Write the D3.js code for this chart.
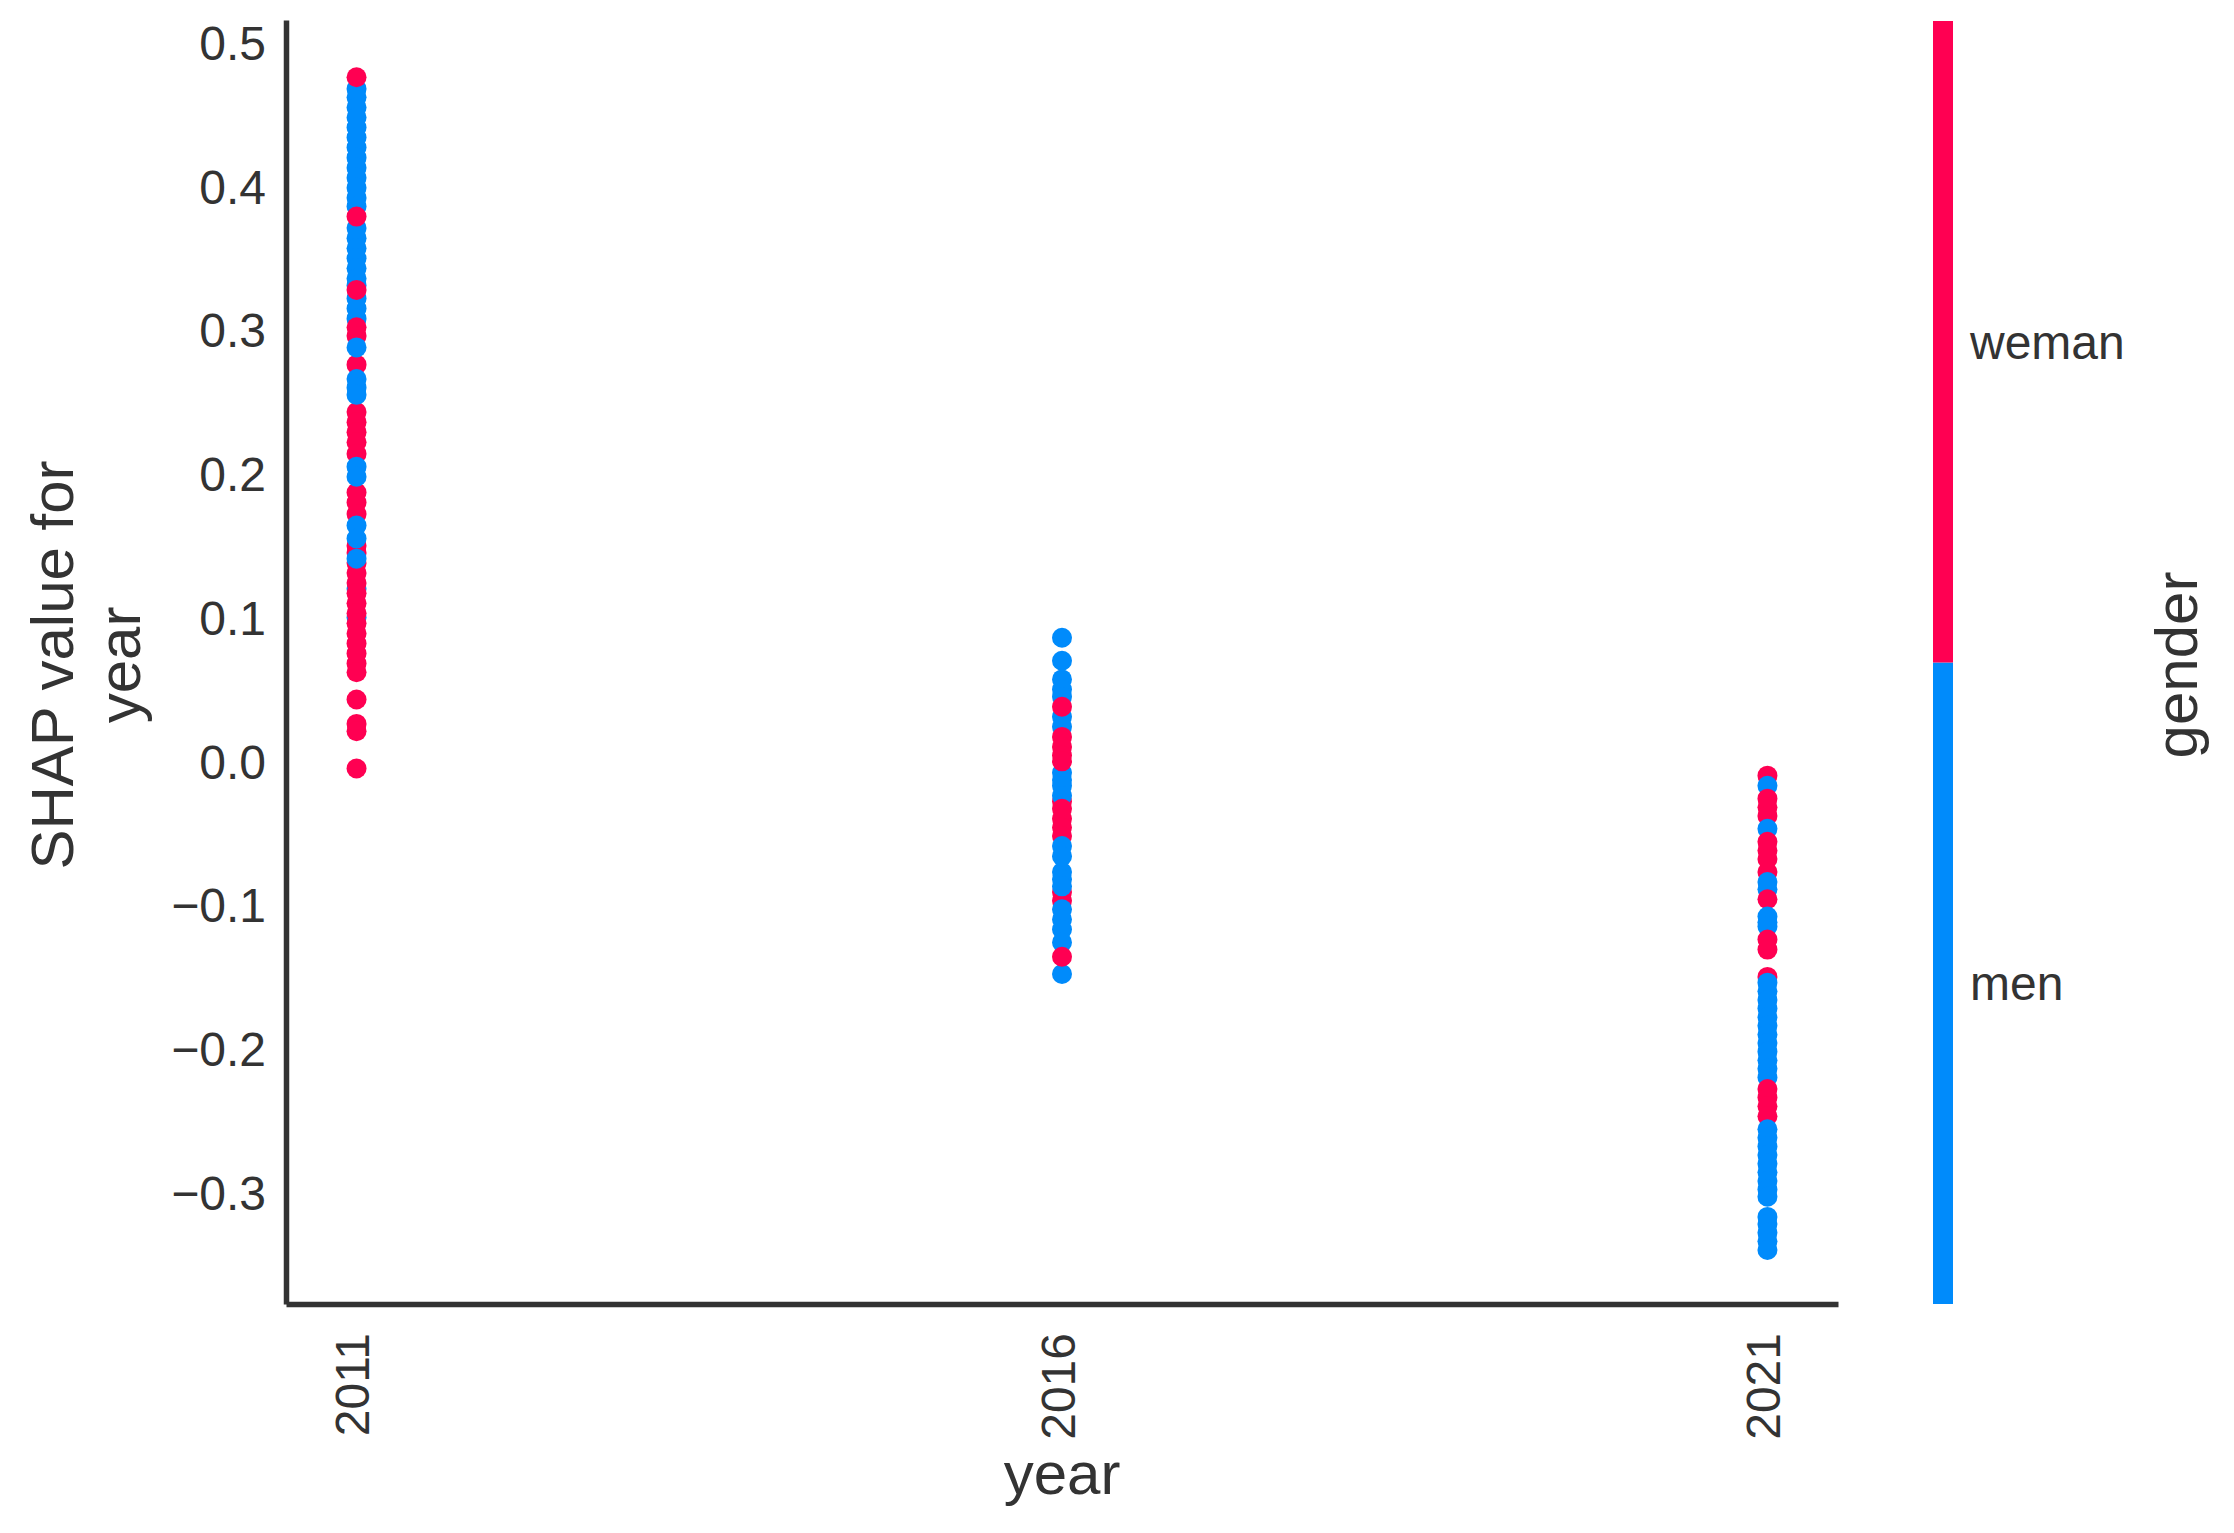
<!DOCTYPE html>
<html>
<head>
<meta charset="utf-8">
<script src="https://cdn.jsdelivr.net/npm/d3@7"></script>
<style>
  body { margin: 0; background: #fff; }
  text { font-family: "Liberation Sans", Arial, sans-serif; fill: #333; }
</style>
</head>
<body>
<svg id="chart"></svg>
<script>
var width = 2234;
var height = 1533;

// [shap value, gender] in drawing order, gender 0 = men, 1 = weman
var years = [2011, 2016, 2021];
var genderLabels = ['men', 'weman'];
var yTicks = [-0.3, -0.2, -0.1, 0.0, 0.1, 0.2, 0.3, 0.4, 0.5];

var shap2011 = [
  [0.468, 0], [0.462, 0], [0.455, 0], [0.448, 0], [0.441, 0], [0.434, 0], [0.427, 0],
  [0.420, 0], [0.413, 0], [0.406, 0], [0.399, 0], [0.392, 0], [0.386, 0],
  [0.371, 0], [0.364, 0], [0.357, 0], [0.350, 0], [0.343, 0], [0.336, 0], [0.331, 0],
  [0.322, 0], [0.315, 0], [0.308, 0], [0.120, 0], [0.100, 0],
  [0.476, 1], [0.379, 1], [0.328, 1], [0.302, 1], [0.296, 1], [0.276, 1],
  [0.243, 1], [0.236, 1], [0.229, 1], [0.222, 1], [0.214, 1],
  [0.187, 1], [0.180, 1], [0.172, 1],
  [0.150, 1], [0.145, 1], [0.138, 1], [0.131, 1], [0.124, 1], [0.117, 1], [0.110, 1],
  [0.103, 1], [0.096, 1], [0.089, 1], [0.082, 1], [0.075, 1], [0.068, 1], [0.062, 1],
  [0.043, 1], [0.026, 1], [0.021, 1], [-0.005, 1],
  [0.288, 0], [0.266, 0], [0.260, 0], [0.255, 0],
  [0.205, 0], [0.198, 0], [0.164, 0], [0.155, 0], [0.141, 0]
];

var shap2016 = [
  [-0.091, 1], [-0.097, 1], [-0.028, 1],
  [0.086, 0], [0.070, 0], [0.057, 0], [0.050, 0], [0.045, 0], [0.031, 0], [0.024, 0],
  [-0.008, 0], [-0.013, 0], [-0.017, 0], [-0.024, 0],
  [-0.077, 0], [-0.082, 0], [-0.087, 0], [-0.103, 0], [-0.110, 0], [-0.117, 0],
  [-0.126, 0], [-0.148, 0],
  [0.038, 1], [0.017, 1], [0.010, 1], [0.004, 1], [0.000, 1],
  [-0.033, 1], [-0.040, 1], [-0.046, 1], [-0.052, 1], [-0.136, 1],
  [-0.059, 0], [-0.066, 0]
];

var shap2021 = [
  [-0.010, 1], [-0.017, 0], [-0.026, 1], [-0.032, 1], [-0.038, 1], [-0.047, 0],
  [-0.056, 1], [-0.062, 1], [-0.068, 1], [-0.077, 1], [-0.084, 0], [-0.089, 0],
  [-0.096, 1], [-0.108, 0], [-0.112, 0], [-0.115, 0], [-0.124, 1], [-0.131, 1],
  [-0.150, 1], [-0.154, 0], [-0.160, 0], [-0.166, 0], [-0.172, 0], [-0.178, 0],
  [-0.184, 0], [-0.190, 0], [-0.196, 0], [-0.202, 0], [-0.208, 0], [-0.214, 0],
  [-0.220, 0], [-0.228, 1], [-0.234, 1], [-0.240, 1], [-0.247, 1],
  [-0.256, 0], [-0.262, 0], [-0.268, 0], [-0.274, 0], [-0.280, 0], [-0.286, 0],
  [-0.292, 0], [-0.298, 0], [-0.303, 0], [-0.317, 0], [-0.322, 0], [-0.328, 0],
  [-0.334, 0], [-0.340, 0]
];

var points = [];
[shap2011, shap2016, shap2021].forEach(function (arr, i) {
  arr.forEach(function (d) { points.push({ year: years[i], value: d[0], gender: d[1] }); });
});

var colors = ['#008bfb', '#ff0052'];

var plot = { left: 286, right: 1838, top: 20, bottom: 1304 };

var x = d3.scaleLinear().domain([2010.5, 2021.5]).range([plot.left, plot.right]);
var y = d3.scaleLinear().domain([-0.3776, 0.5158]).range([plot.bottom, plot.top]);

var svg = d3.select('#chart')
    .attr('width', width)
    .attr('height', height);

// points
svg.append('g')
  .selectAll('circle')
  .data(points)
  .enter()
  .append('circle')
    .attr('cx', function (d) { return x(d.year); })
    .attr('cy', function (d) { return y(d.value); })
    .attr('r', 10)
    .style('fill', function (d) { return colors[d.gender]; });

// y axis
var yAxis = svg.append('g')
    .attr('transform', 'translate(' + plot.left + ',0)')
    .call(d3.axisLeft(y).tickValues(yTicks).tickSize(0).tickSizeOuter(0).tickPadding(20)
      .tickFormat(d3.format('.1f')));
yAxis.select('.domain').attr('stroke', '#333').attr('stroke-width', 5.5);
yAxis.selectAll('text')
    .style('font-size', '48px')
    .attr('dy', '0.35em');

// x axis
var xAxis = svg.append('g')
    .attr('transform', 'translate(0,' + plot.bottom + ')')
    .call(d3.axisBottom(x).tickValues(years).tickSize(0).tickSizeOuter(0)
      .tickFormat(d3.format('d')));
xAxis.select('.domain').attr('stroke', '#333').attr('stroke-width', 5.5);
xAxis.selectAll('text')
    .style('font-size', '48px')
    .attr('text-anchor', 'end')
    .attr('transform', 'rotate(-90)')
    .attr('x', -29)
    .attr('y', 0)
    .attr('dy', '0.25em');

// axis titles
svg.append('text')
    .attr('x', (plot.left + plot.right) / 2)
    .attr('y', 1494)
    .attr('text-anchor', 'middle')
    .style('font-size', '60px')
    .text('year');

var yTitle = svg.append('text')
    .attr('transform', 'translate(73,665) rotate(-90)')
    .attr('text-anchor', 'middle')
    .style('font-size', '60px');
yTitle.append('tspan').attr('x', 0).attr('y', 0).text('SHAP value for');
yTitle.append('tspan').attr('x', 0).attr('y', 67).text('year');

// colorbar
var cb = d3.scaleLinear().domain([0, 1]).range([plot.bottom, 21]);
svg.append('g')
  .selectAll('rect')
  .data(genderLabels)
  .enter()
  .append('rect')
    .attr('x', 1933)
    .attr('width', 20)
    .attr('y', function (d, i) { return cb((i + 1) / 2); })
    .attr('height', function (d, i) { return cb(i / 2) - cb((i + 1) / 2); })
    .style('fill', function (d, i) { return colors[i]; });

svg.append('g')
  .selectAll('text')
  .data(genderLabels)
  .enter()
  .append('text')
    .attr('x', 1970)
    .attr('y', function (d, i) { return cb(i / 2 + 0.25); })
    .attr('dy', '0.35em')
    .style('font-size', '48px')
    .text(function (d) { return d; });

svg.append('text')
    .attr('transform', 'translate(2197,665) rotate(-90)')
    .attr('text-anchor', 'middle')
    .style('font-size', '60px')
    .text('gender');
</script>
</body>
</html>
